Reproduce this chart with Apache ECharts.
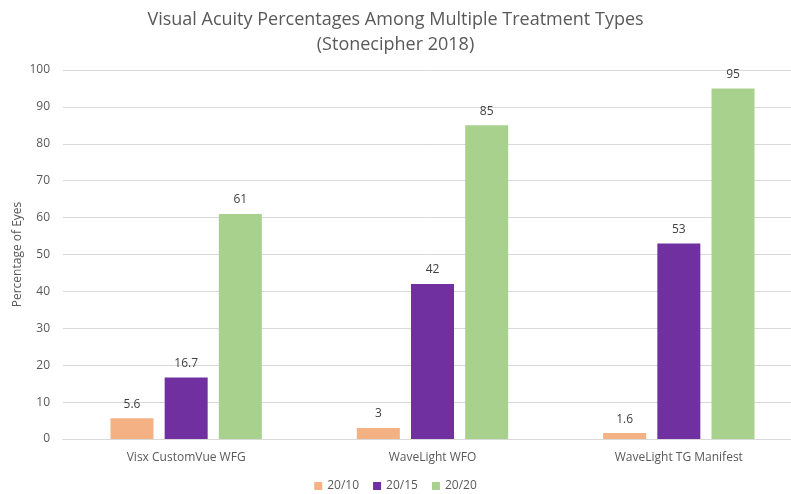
<!DOCTYPE html>
<html>
<head>
<meta charset="utf-8">
<script src="https://cdn.jsdelivr.net/npm/echarts@6/dist/echarts.min.js"></script>
<style>
  html, body { margin: 0; padding: 0; background: #fff; }
  #chart { width: 791px; height: 494px; }
</style>
</head>
<body>
<div id="chart"></div>
<script>
  // treatment types on the x axis
  var categories = ['Visx CustomVue WFG', 'WaveLight WFO', 'WaveLight TG Manifest']
  // percentage of eyes per acuity level
  var acuity2010 = [5.6, 3, 1.6]
  var acuity2015 = [16.7, 42, 53]
  var acuity2020 = [61, 85, 95]
  var seriesNames = ['20/10', '20/15', '20/20']
  var colors = ['#F4B183', '#7030A0', '#A9D18E']

  var font = 'Open Sans'
  var myChart = echarts.init(document.getElementById('chart'))

  function barSeries (name, data, color) {
    return {
      name: name,
      type: 'bar',
      data: data,
      barWidth: 43,
      barGap: '26%',
      itemStyle: { color: color },
      label: {
        show: true,
        position: 'top',
        distance: 8,
        color: '#404040',
        fontFamily: font,
        fontSize: 12
      }
    }
  }

  var option = {
    animation: false,
    color: colors,
    title: {
      text: 'Visual Acuity Percentages Among Multiple Treatment Types\n(Stonecipher 2018)',
      left: 'center',
      top: 2,
      textStyle: {
        fontFamily: font,
        fontWeight: 'normal',
        fontSize: 18,
        color: '#595959',
        lineHeight: 25
      }
    },
    legend: {
      bottom: -3,
      left: 'center',
      itemWidth: 8,
      itemHeight: 8,
      itemGap: 14,
      icon: 'rect',
      textStyle: { fontFamily: font, fontSize: 12, color: '#595959' },
      data: seriesNames
    },
    grid: {
      left: 63,
      top: 70,
      width: 739,
      height: 369,
      containLabel: false,
      outerBoundsMode: 'none'
    },
    xAxis: {
      type: 'category',
      data: categories,
      axisTick: { show: false },
      axisLine: { lineStyle: { color: '#D9D9D9', width: 1 } },
      axisLabel: { fontFamily: font, fontSize: 12, color: '#595959', margin: 13 }
    },
    yAxis: {
      type: 'value',
      min: 0,
      max: 100,
      interval: 10,
      name: 'Percentage of Eyes',
      nameLocation: 'middle',
      nameGap: 39,
      nameMoveOverlap: false,
      nameTextStyle: { fontFamily: font, fontSize: 12, color: '#595959' },
      axisLine: { show: false },
      axisTick: { show: false },
      axisLabel: { fontFamily: font, fontSize: 12, color: '#595959', margin: 13 },
      splitLine: { lineStyle: { color: '#D9D9D9', width: 1 } }
    },
    series: [
      barSeries(seriesNames[0], acuity2010, colors[0]),
      barSeries(seriesNames[1], acuity2015, colors[1]),
      barSeries(seriesNames[2], acuity2020, colors[2])
    ]
  }
  myChart.setOption(option, true)
</script>
</body>
</html>
